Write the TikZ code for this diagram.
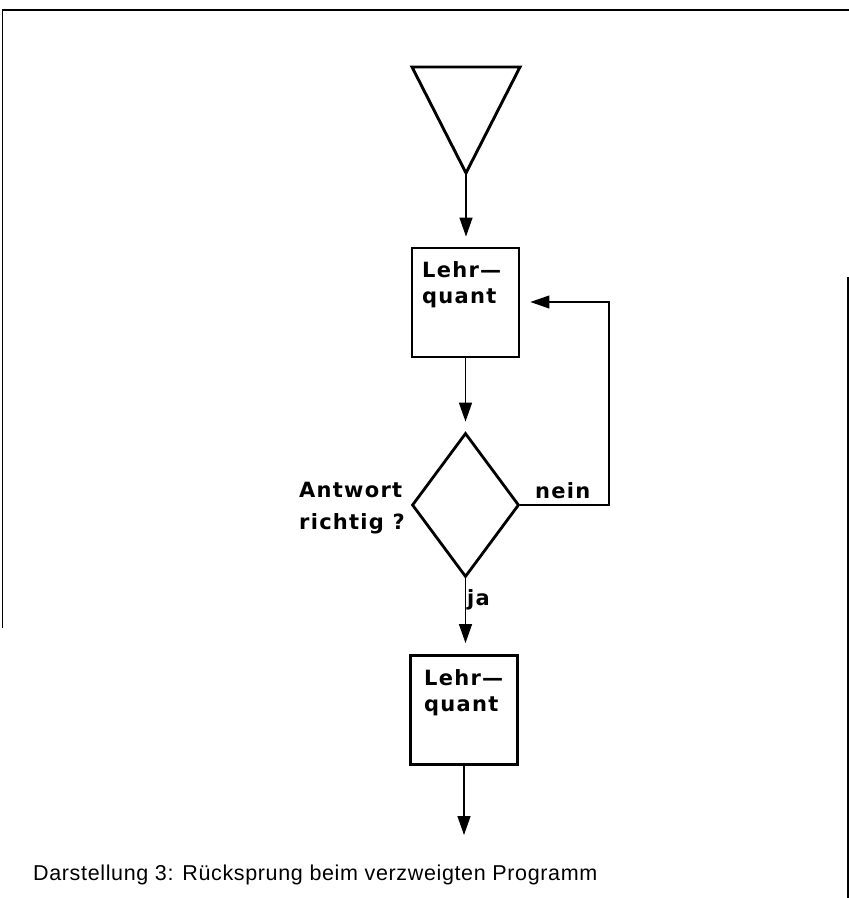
\documentclass[tikz,border=0pt]{standalone}
\usepackage{fontspec}
\setmainfont{Liberation Sans}
\newfontfamily\lab[LetterSpace=6]{DejaVu Sans Bold}
\newfontfamily\capfont[LetterSpace=3]{Liberation Sans}
\usetikzlibrary{shapes.geometric,arrows.meta}
\begin{document}
\begin{tikzpicture}[x=1pt,y=-1pt,
  box/.style={draw,line width=2.9pt,minimum width=107pt,minimum height=109pt,inner sep=0pt},
  dia/.style={draw,diamond,line width=2.8pt,minimum width=107pt,minimum height=144pt,inner sep=0pt,aspect=0.743},
  conn/.style={line width=1.4pt,-{Triangle[length=19pt,width=13pt]}},
  loopline/.style={line width=1.2pt,-{Triangle[length=19pt,width=13pt]}},
  lbl/.style={font=\lab\fontsize{21}{26}\selectfont,inner sep=0pt,align=left},
  frame/.style={line width=1.5pt}]
\useasboundingbox (0,0) rectangle (849,898);
% frame lines
\draw[line width=2.5pt] (2,10) -- (849,10);
\draw[frame] (2.5,10) -- (2.5,628);
\draw[frame] (848,277) -- (848,898);
% start triangle
\coordinate (tl) at (412,67);
\coordinate (tr) at (520,67);
\coordinate (ta) at (466,173);
\draw[line width=2.9pt] (tl) -- (tr) -- (ta) -- cycle;
% boxes and diamond
\node[box] (b1) at (465.5,302.5) {};
\node[lbl,anchor=north west] (t1) at (422,261) {Lehr—\\quant};
\node[dia] (d) at (465.5,505) {};
\node[box] (b2) at (464,710) {};
\node[lbl,anchor=north west] (t2) at (424,669) {Lehr—\\quant};
\coordinate (endc) at (464,835);
\coordinate (lc) at (609,302);
% connectors
\draw[conn,shorten >=10pt] (ta) -- (b1.north -| ta);
\draw[conn,shorten >=10pt] (b1.south) -- (d.north);
\draw[conn,shorten >=11pt] (d.south) -- (d.south |- b2.north);
\draw[conn] (b2.south) -- (endc);
\draw[loopline,shorten >=10pt] (d.east) -| (lc) -- (b1.east |- lc);
% labels
\node[lbl,anchor=north west,font=\lab\fontsize{21}{32}\selectfont] (q) at (299,482) {Antwort\\richtig ?};
\node[lbl,anchor=base west] (nein) at (535,498) {nein};
\node[lbl,anchor=base west] (ja) at (467,605) {ja};
\node[anchor=base west,inner sep=0pt,font=\capfont\fontsize{21.5}{25}\selectfont] (cap) at (33,880) {Darstellung 3: Rücksprung beim verzweigten Programm};
\end{tikzpicture}
\end{document}
